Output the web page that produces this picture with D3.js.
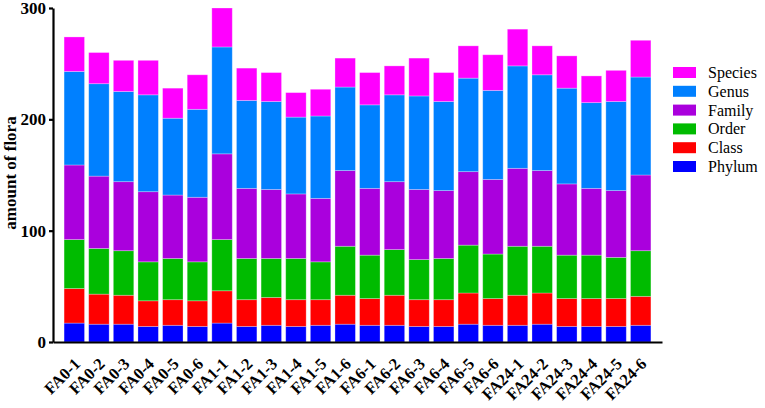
<!DOCTYPE html>
<html>
<head>
<meta charset="utf-8">
<script src="https://cdn.jsdelivr.net/npm/d3@7"></script>
<style>
  body { margin: 0; background: #fff; }
  svg { display: block; }
  .axis path, .axis line { stroke: #000; stroke-width: 2.2px; }
  .axis text { font-family: "Liberation Serif", "Times New Roman", serif; font-weight: bold; fill: #000; }
</style>
</head>
<body>
<svg id="chart" width="765" height="408"></svg>
<script>
// sample names along the x axis
var samples = ["FA0-1","FA0-2","FA0-3","FA0-4","FA0-5","FA0-6",
               "FA1-1","FA1-2","FA1-3","FA1-4","FA1-5","FA1-6",
               "FA6-1","FA6-2","FA6-3","FA6-4","FA6-5","FA6-6",
               "FA24-1","FA24-2","FA24-3","FA24-4","FA24-5","FA24-6"];

// taxonomic levels, bottom to top
var levels = ["Phylum","Class","Order","Family","Genus","Species"];

var phylum  = [17,16,16,14,15,14,17,14,15,14,15,16,15,15,14,14,16,15,15,16,14,14,14,15];
var klass   = [31,27,26,23,23,23,29,24,25,24,23,26,24,27,24,24,28,24,27,28,25,25,25,26];
var order   = [44,41,40,35,37,35,46,37,35,37,34,44,39,41,36,37,43,40,44,42,39,39,37,41];
var family  = [67,65,62,63,57,58,77,63,62,58,57,68,60,61,63,61,66,67,70,68,64,60,60,68];
var genus   = [84,83,81,87,69,79,96,79,79,69,74,75,75,78,84,80,84,80,92,86,86,77,80,88];
var species = [31,28,28,31,27,31,35,29,26,22,24,26,29,26,34,26,29,32,33,26,29,24,28,33];

var yTicks = [0, 100, 200, 300];

var colors = {Phylum:"#0000ff", Class:"#ff0000", Order:"#00bb00",
              Family:"#aa00dd", Genus:"#0080ff", Species:"#ff00ff"};

// build rows for d3.stack
var series = {Phylum:phylum, Class:klass, Order:order, Family:family, Genus:genus, Species:species};
var rows = samples.map(function(s, i) {
  var r = {sample: s};
  levels.forEach(function(k) { r[k] = series[k][i]; });
  return r;
});

const svg = d3.select("#chart"),
      x = d3.scaleBand().domain(samples).range([53, 662]).paddingInner(0.17).paddingOuter(0.45),
      y = d3.scaleLinear().domain([0, 300]).range([342, 8]);

var stacked = d3.stack().keys(levels)(rows);

svg.append("g")
  .selectAll("g")
  .data(stacked)
  .enter().append("g")
  .attr("fill", d => colors[d.key])
  .selectAll("rect")
  .data(d => d)
  .enter().append("rect")
  .attr("x", d => x(d.data.sample))
  .attr("y", d => y(d[1]))
  .attr("width", x.bandwidth())
  .attr("height", d => y(d[0]) - y(d[1]))
  .attr("stroke", "#ffffff")
  .attr("stroke-opacity", 0.35)
  .attr("stroke-width", 0.8);

// y axis
var gy = svg.append("g")
  .attr("class", "axis")
  .attr("transform", "translate(53,0)")
  .call(d3.axisLeft(y).tickValues(yTicks).tickSize(4).tickPadding(3).tickSizeOuter(0));
gy.selectAll("text").style("font-size", "17px");

// x axis, labels slanted
var gx = svg.append("g")
  .attr("class", "axis")
  .attr("transform", "translate(0,342)")
  .call(d3.axisBottom(x).tickSize(0).tickSizeOuter(0));
gx.selectAll("text")
  .style("font-size", "16.5px")
  .attr("text-anchor", "end")
  .attr("dy", null)
  .attr("y", 0)
  .attr("transform", "translate(7,23) rotate(-45)");

// y label
svg.append("text")
  .attr("transform", "translate(16,173) rotate(-90)")
  .attr("text-anchor", "middle")
  .style("font-family", "'Liberation Serif', 'Times New Roman', serif")
  .style("font-weight", "bold")
  .style("font-size", "17px")
  .text("amount of flora");

// legend, Species on top
var legend = svg.append("g").attr("transform", "translate(673,67)");
levels.slice().reverse().forEach(function(k, i) {
  legend.append("rect")
    .attr("x", 0).attr("y", i * 18.8)
    .attr("width", 23).attr("height", 11)
    .attr("fill", colors[k]);
  legend.append("text")
    .attr("x", 35).attr("y", i * 18.8 + 11)
    .style("font-family", "'Liberation Serif', 'Times New Roman', serif")
    .style("font-size", "16px")
    .text(k);
});
</script>
</body>
</html>
